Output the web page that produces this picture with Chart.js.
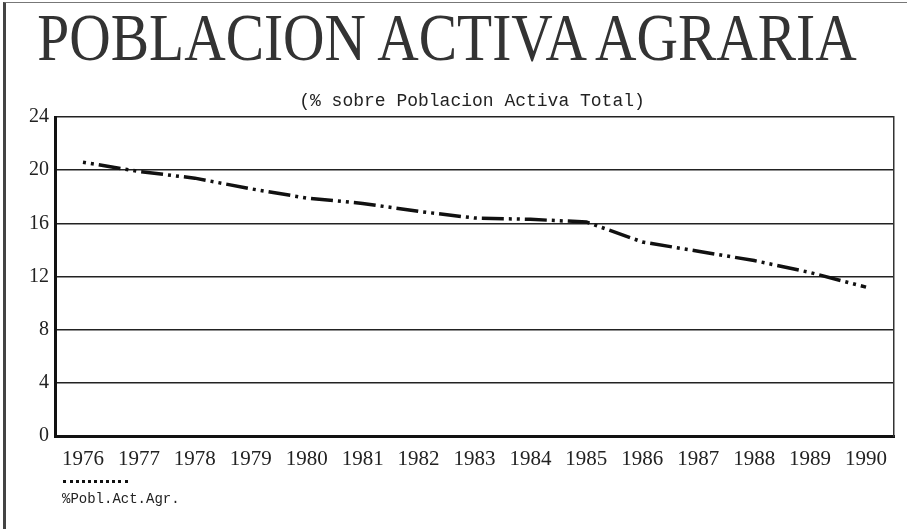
<!DOCTYPE html>
<html><head><meta charset="utf-8">
<script src="https://cdn.jsdelivr.net/npm/chart.js@4/dist/chart.umd.min.js"></script>
<style>
html,body{margin:0;padding:0;background:#fff;}
#wrap{position:relative;width:907px;height:529px;overflow:hidden;background:#fff;}
#frame{position:absolute;left:3px;top:2px;width:904px;height:527px;border-left:3px solid #444;border-top:1px solid #777;box-sizing:border-box;pointer-events:none;}
#title{position:absolute;left:-203px;top:3px;width:1300px;text-align:center;font-family:"Liberation Serif",serif;font-size:68px;line-height:68px;color:#333;transform:scaleX(0.845);transform-origin:650px 0;white-space:nowrap;}
#subtitle{position:absolute;left:272px;top:92px;width:400px;text-align:center;font-family:"Liberation Mono",monospace;font-size:18px;line-height:18px;color:#222;white-space:nowrap;}
#legsample{position:absolute;left:63px;top:480px;width:65px;height:0;border-top:3px dotted #111;}
#legtext{position:absolute;left:62px;top:492px;font-family:"Liberation Mono",monospace;font-size:14px;line-height:14px;color:#222;white-space:nowrap;}
canvas{position:absolute;left:0;top:0;}
</style></head>
<body>
<div id="wrap">
<canvas id="c" width="907" height="529"></canvas>
<div id="frame"></div>
<div id="title">POBLACION ACTIVA AGRARIA</div>
<div id="subtitle">(% sobre Poblacion Activa Total)</div>
<div id="legsample"></div>
<div id="legtext">%Pobl.Act.Agr.</div>
</div>
<script>
const years = ['1976','1977','1978','1979','1980','1981','1982','1983','1984','1985','1986','1987','1988','1989','1990'];
const pctAgr = [20.6, 19.9, 19.4, 18.6, 17.9, 17.5, 16.9, 16.4, 16.3, 16.1, 14.6, 13.9, 13.2, 12.3, 11.2];
const yTicks = [0, 4, 8, 12, 16, 20, 24];
const seriesName = '%Pobl.Act.Agr.';

const tickFont = {family: '"Liberation Serif", serif', size: 21};

new Chart(document.getElementById('c'), {
  type: 'line',
  data: {
    labels: years,
    datasets: [{
      label: seriesName,
      data: pctAgr,
      borderColor: '#111',
      borderWidth: 3.5,
      borderDash: [3, 5, 3, 5, 22, 5],
      pointRadius: 0,
      fill: false,
      tension: 0
    }]
  },
  options: {
    responsive: false,
    devicePixelRatio: 1,
    animation: false,
    layout: {padding: {top: 117, left: 0, right: 0, bottom: 0}},
    plugins: {legend: {display: false}, title: {display: false}, tooltip: {enabled: false}},
    scales: {
      x: {
        type: 'category',
        offset: true,
        grid: {display: false, drawTicks: false},
        border: {display: true, color: '#111', width: 3},
        ticks: {font: tickFont, color: '#222', padding: 11, maxRotation: 0, autoSkip: false},
        afterFit: s => { s.height = 529 - 436; }
      },
      y: {
        min: 0, max: 24,
        afterBuildTicks: s => { s.ticks = yTicks.map(v => ({value: v})); },
        grid: {color: '#222', lineWidth: 1.5, drawTicks: false},
        border: {display: true, color: '#111', width: 3},
        ticks: {font: {family: '"Liberation Serif", serif', size: 20}, color: '#222', padding: 6},
        afterFit: s => { s.width = 55; }
      },
      yR: {
        position: 'right',
        min: 0, max: 24,
        grid: {drawOnChartArea: false, drawTicks: false},
        border: {display: true, color: '#333', width: 1.5},
        ticks: {display: false},
        afterFit: s => { s.width = 13; }
      }
    }
  }
});
</script>
</body></html>
